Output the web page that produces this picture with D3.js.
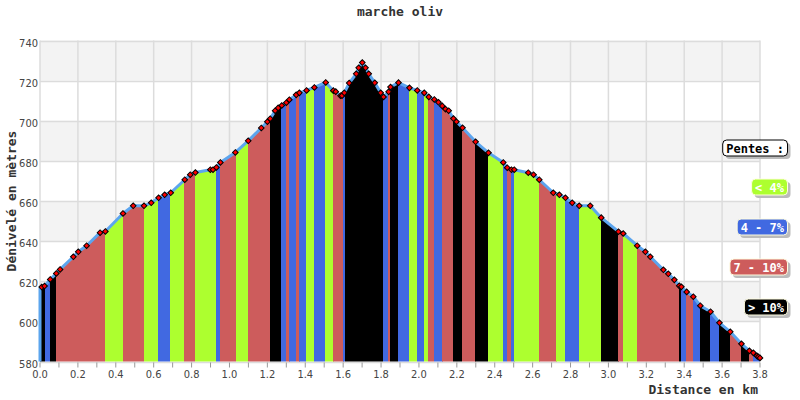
<!DOCTYPE html>
<html><head><meta charset="utf-8">
<script src="https://cdn.jsdelivr.net/npm/d3@7"></script>
<style>
body{margin:0;background:#fff;}
svg{display:block;}
</style></head>
<body>
<svg id="c" width="800" height="400"></svg>
<script>
// ---- data ----
const title = "marche oliv";
const xTitle = "Distance en km";
const yTitle = "Dénivelé en mètres";
const distances = [0.000,0.009,0.024,0.054,0.086,0.106,0.176,0.202,0.246,0.317,0.345,0.438,0.492,0.549,0.587,0.626,0.658,0.690,0.764,0.793,0.820,0.899,0.913,0.931,0.952,1.031,1.099,1.168,1.200,1.215,1.241,1.257,1.276,1.300,1.316,1.352,1.369,1.407,1.448,1.508,1.548,1.561,1.586,1.594,1.606,1.632,1.669,1.682,1.701,1.718,1.735,1.767,1.798,1.813,1.840,1.850,1.892,1.950,1.991,2.028,2.052,2.081,2.103,2.123,2.140,2.157,2.182,2.198,2.230,2.299,2.367,2.445,2.466,2.488,2.503,2.577,2.605,2.635,2.709,2.741,2.773,2.809,2.846,2.904,2.962,3.053,3.078,3.152,3.195,3.221,3.290,3.316,3.348,3.374,3.385,3.413,3.448,3.485,3.539,3.586,3.643,3.702,3.744,3.765,3.784,3.791,3.800];
const elevations = [616.4,617.1,617.6,620.9,623.9,625.9,632.2,634.7,637.7,644.2,644.8,653.8,657.6,657.6,659.1,661.6,663.1,664.1,670.6,673.1,674.2,675.6,675.6,676.7,679.2,684.2,690.0,696.4,699.5,701.0,705.0,706.4,707.6,709.0,710.5,712.9,713.9,715.1,716.6,719.1,715.0,714.5,712.5,712.5,713.9,718.8,723.4,726.4,729.0,726.4,723.4,718.9,713.9,711.9,714.4,716.8,719.0,716.4,715.1,713.9,711.9,710.6,709.2,707.4,705.8,705.0,701.1,699.5,696.5,689.5,684.0,679.2,676.6,675.6,675.6,674.1,673.1,670.6,664.1,663.1,661.6,659.1,657.6,657.6,651.7,644.7,643.8,637.7,634.7,632.2,625.7,623.7,620.7,617.7,617.2,614.7,612.3,607.8,604.8,599.3,594.8,588.8,585.3,584.3,582.8,582.3,581.8];
// slope bands: start distance + class index (0:<4%, 1:4-7%, 2:7-10%, 3:>10%)
const bandStarts = [0.000,0.025,0.053,0.083,0.341,0.438,0.549,0.623,0.686,0.760,0.818,0.929,0.950,1.032,1.034,1.098,1.214,1.270,1.298,1.316,1.351,1.369,1.404,1.446,1.504,1.548,1.601,1.610,1.809,1.835,1.847,1.889,1.948,1.988,2.025,2.048,2.078,2.123,2.180,2.227,2.297,2.364,2.444,2.465,2.486,2.503,2.635,2.725,2.771,2.845,2.961,3.052,3.077,3.151,3.372,3.383,3.410,3.446,3.483,3.536,3.584,3.642,3.700,3.742,3.764];
const bandClasses = [3,1,3,2,0,2,0,1,0,2,0,1,2,1,0,2,3,1,2,1,2,1,0,1,0,2,1,3,1,2,3,1,0,1,0,2,1,2,3,2,3,0,1,2,1,0,2,0,1,0,3,2,0,2,3,1,2,1,3,1,3,2,3,2,1];
const classLabels = ["< 4%","4 - 7%","7 - 10%","> 10%"];
const classColors = ["#adff2f","#4169e1","#cd5c5c","#000000"];
const legendTitle = "Pentes :";
const yTicks = [580,600,620,640,660,680,700,720,740];
const xTicks = [0,0.2,0.4,0.6,0.8,1.0,1.2,1.4,1.6,1.8,2.0,2.2,2.4,2.6,2.8,3.0,3.2,3.4,3.6,3.8];
const xMinorTicks = d3.range(0,39).map(i=>i/10);

// ---- drawing ----
const svg = d3.select("#c");
const x = d3.scaleLinear().domain([0,3.8]).range([40,760]);
const y = d3.scaleLinear().domain([580,740]).range([361.5,40.5]);
const pts = distances.map((d,i)=>({d, e:elevations[i]}));

// background stripes
const g = svg.append("g");
for (let i=0;i<yTicks.length-1;i++){
  if ((yTicks.length-2-i)%2===0){
    g.append("rect").attr("x",x(0)).attr("width",x(3.8)-x(0))
      .attr("y",y(yTicks[i+1])).attr("height",y(yTicks[i])-y(yTicks[i+1]))
      .attr("fill","#f3f3f3");
  }
}
// grid
g.selectAll(".hg").data(yTicks).join("line")
  .attr("x1",x(0)).attr("x2",x(3.8)).attr("y1",d=>Math.round(y(d))+0.5).attr("y2",d=>Math.round(y(d))+0.5)
  .attr("stroke","#dcdcdc").attr("stroke-width",1.5);
g.selectAll(".vg").data(xTicks).join("line")
  .attr("y1",y(740)).attr("y2",y(580)).attr("x1",d=>x(d)).attr("x2",d=>x(d))
  .attr("stroke","#dcdcdc").attr("stroke-width",1.5);

// area clip
const area = d3.area().x(p=>x(p.d)).y0(y(580)).y1(p=>y(p.e));
svg.append("clipPath").attr("id","clipA").append("path").attr("d",area(pts));
const bands = bandStarts.map((s,i)=>({s, e: i<bandStarts.length-1?bandStarts[i+1]:3.8, c: bandClasses[i]}));
svg.append("g").attr("clip-path","url(#clipA)")
  .selectAll("rect").data(bands).join("rect")
  .attr("x",b=>x(b.s)).attr("width",b=>Math.max(0,x(b.e)-x(b.s))+0.3)
  .attr("y",y(740)).attr("height",y(580)-y(740))
  .attr("fill",b=>classColors[b.c]).attr("shape-rendering","crispEdges");

// profile line
const line = d3.line().x(p=>x(p.d)).y(p=>y(p.e));
svg.append("path").attr("d",line([{d:0,e:580},...pts]))
  .attr("fill","none").attr("stroke","#5ca5ee").attr("stroke-width",3).attr("stroke-linejoin","round");

// markers
svg.append("g").selectAll("rect").data(pts.slice(1)).join("rect")
  .attr("x",-2).attr("y",-2).attr("width",4).attr("height",4)
  .attr("transform",p=>`translate(${x(p.d)},${y(p.e)}) rotate(45)`)
  .attr("fill","#ff0000").attr("stroke","#000").attr("stroke-width",1);

// x ticks
svg.append("g").selectAll("line").data(xMinorTicks).join("line")
  .attr("x1",d=>x(d)).attr("x2",d=>x(d)).attr("y1",y(580)+1).attr("y2",y(580)+6)
  .attr("stroke","#999").attr("stroke-width",1);
svg.append("g").selectAll("text").data(xTicks).join("text")
  .attr("x",d=>x(d)).attr("y",378).attr("text-anchor","middle")
  .attr("font-family","'DejaVu Sans Condensed','DejaVu Sans',sans-serif").attr("font-size",11).attr("fill","#444")
  .text(d=>d.toFixed(1));
// y labels
svg.append("g").selectAll("text").data(yTicks).join("text")
  .attr("x",38).attr("y",d=>y(d)+6).attr("text-anchor","end")
  .attr("font-family","'DejaVu Sans Condensed','DejaVu Sans',sans-serif").attr("font-size",11).attr("fill","#444")
  .text(d=>d);

// titles
const mono = "'DejaVu Sans Mono',monospace";
svg.append("text").attr("x",400).attr("y",16).attr("text-anchor","middle")
  .attr("font-family",mono).attr("font-weight","bold").attr("font-size",13).attr("fill","#333").text(title);
svg.append("text").attr("x",758).attr("y",394).attr("text-anchor","end")
  .attr("font-family",mono).attr("font-weight","bold").attr("font-size",13).attr("fill","#333").text(xTitle);
svg.append("text").attr("transform","translate(16,201) rotate(-90)").attr("text-anchor","middle")
  .attr("font-family",mono).attr("font-weight","bold").attr("font-size",13).attr("fill","#333").text(yTitle);

// legend
const legItems = [{label:legendTitle, fill:"#fff", stroke:"#000", color:"#000", cy:148}]
  .concat(classLabels.map((l,i)=>({label:l, fill:classColors[i], stroke:"#fffde0", color:"#fff", cy:187+i*40})));
const lg = svg.append("g");
legItems.forEach(it=>{
  const t = lg.append("text").attr("x",784).attr("y",it.cy+4.5).attr("text-anchor","end")
    .attr("font-family",mono).attr("font-weight","bold").attr("font-size",12).attr("fill",it.color).text(it.label);
  const w = t.node().getComputedTextLength();
  const bx = 784 - w - 3.5, bw = w + 7;
  lg.insert("rect","text").attr("x",bx+3).attr("y",it.cy-8+3).attr("width",bw).attr("height",16).attr("rx",4).attr("fill","#bbbbbb");
  lg.insert("rect","text").attr("x",bx).attr("y",it.cy-8).attr("width",bw).attr("height",16).attr("rx",4)
    .attr("fill",it.fill).attr("stroke",it.stroke).attr("stroke-width",1);
});
</script>
</body></html>
